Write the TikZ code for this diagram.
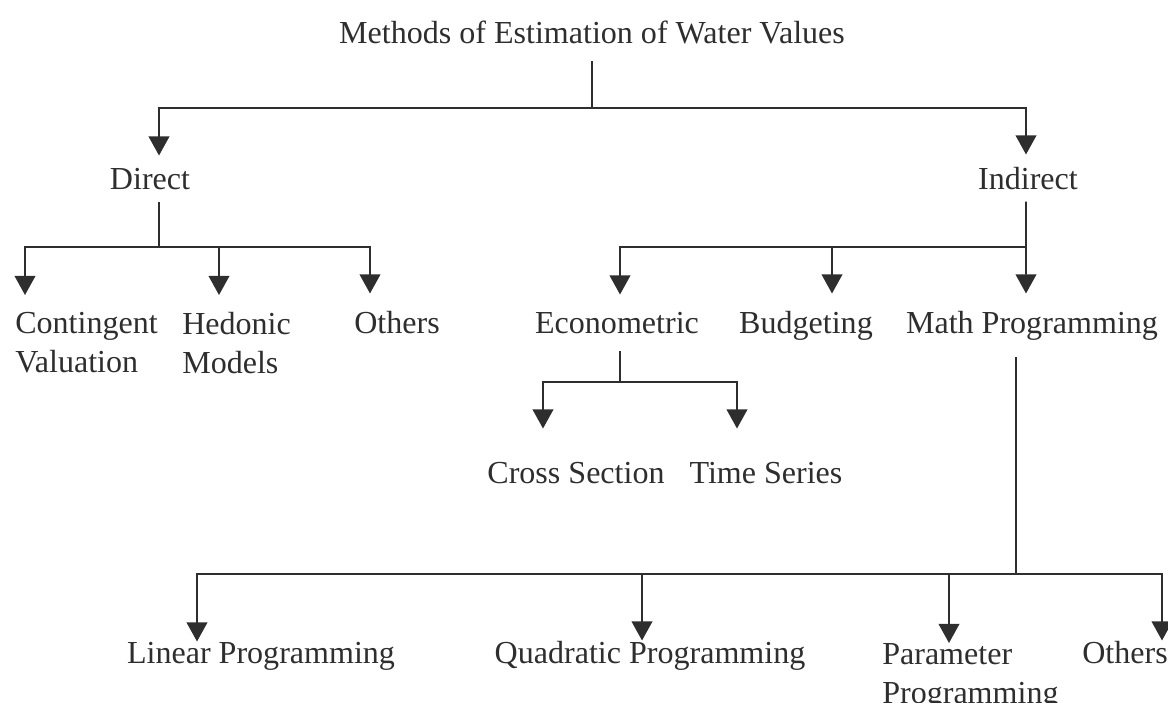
\documentclass[tikz,border=0pt]{standalone}
\usepackage{fontspec}
\setmainfont{Liberation Serif}
\usepackage{xcolor}
\usetikzlibrary{arrows.meta,positioning}
\definecolor{ink}{HTML}{2E2E2E}

\begin{document}
\begin{tikzpicture}[
        lbl/.style={inner xsep=0pt, anchor=base, text=ink, font=\fontsize{22.8}{27.7}\selectfont},
        multi/.style={lbl, anchor=north west, align=left},
        link/.style={draw=ink, line width=1.2pt},
        arrow/.style={link, -{Triangle[width=0.52cm,length=0.48cm]}}
    ]
    \useasboundingbox (0,0) rectangle (29.2,-17.575);

    % Root
    \node[lbl, inner ysep=0.425cm] (root) at (14.8,-1.075) {Methods of Estimation of Water Values};

    % === First level ===
    \node[lbl, inner ysep=0.3cm] (direct) at (3.75,-4.725) {Direct};
    \node[lbl, inner ysep=0.3cm] (indirect) at (25.7,-4.725) {Indirect};

    \coordinate (top) at (14.8,-2.7);
    \draw[link] (root.south) -- (top);
    \draw[arrow] (top) -| ([xshift=0.225cm]direct.north);
    \draw[arrow] (top) -| ([xshift=-0.05cm]indirect.north);

    % === Direct methods ===
    \node[multi, inner ysep=0.425cm] (cv) at (0.375,-7.375) {Contingent\\Valuation};
    \node[multi, inner ysep=0.425cm] (hedonic) at (4.55,-7.375) {Hedonic\\Models};
    \node[lbl, inner ysep=0.425cm] (others1) at (9.925,-8.325) {Others};

    \coordinate (dbar) at (3.975,-6.175);
    \draw[link] ([xshift=0.225cm]direct.south) -- (dbar);
    \draw[arrow] (dbar) -| ([xshift=0.25cm]cv.north west);
    \draw[arrow] (dbar) -| ([xshift=0.925cm]hedonic.north west);
    \draw[arrow] (dbar) -| ([xshift=-0.675cm]others1.north);

    % === Indirect methods ===
    \node[lbl, inner ysep=0.425cm] (econ) at (15.425,-8.325) {Econometric};
    \node[lbl, inner ysep=0.425cm] (budget) at (20.15,-8.325) {Budgeting};
    \node[lbl, inner ysep=0.425cm] (math) at (25.8,-8.325) {Math Programming};

    \coordinate (ibar) at (25.65,-6.175);
    \draw[link] ([xshift=-0.05cm]indirect.south) -- (ibar);
    \draw[arrow] (ibar) -| ([xshift=0.075cm]econ.north);
    \draw[arrow] (ibar) -| ([xshift=0.65cm]budget.north);
    \draw[arrow] (ibar) -- ([xshift=-0.15cm]math.north);

    % Econometric branches
    \node[lbl, inner ysep=0.825cm] (cross) at (14.4,-12.075) {Cross Section};
    \node[lbl, inner ysep=0.825cm] (time) at (19.15,-12.075) {Time Series};

    \coordinate (ebar) at (15.5,-9.55);
    \draw[link] ([xshift=0.075cm]econ.south) -- (ebar);
    \draw[arrow] (ebar) -| ([xshift=-0.825cm]cross.north);
    \draw[arrow] (ebar) -| ([xshift=-0.725cm]time.north);

    % === Math programming branches ===
    \node[lbl, inner ysep=0pt] (linear) at (6.525,-16.575) {Linear Programming};
    \node[lbl, inner ysep=0pt] (quad) at (16.25,-16.575) {Quadratic Programming};
    \node[multi, inner ysep=0pt] (param) at (22.05,-16.075) {Parameter\\Programming};
    \node[lbl, inner ysep=0pt] (others2) at (28.125,-16.575) {Others};

    \coordinate (mbar) at (25.4,-14.35);
    \draw[link] ([xshift=-0.4cm]math.south) -- (mbar);
    \draw[arrow] (mbar) -| ([xshift=-1.6cm]linear.north);
    \draw[arrow] (mbar) -| ([xshift=-0.2cm]quad.north);
    \draw[arrow] (mbar) -| ([xshift=1.675cm]param.north west);
    \draw[arrow] (mbar) -| ([xshift=0.925cm]others2.north);

\end{tikzpicture}
\end{document}
